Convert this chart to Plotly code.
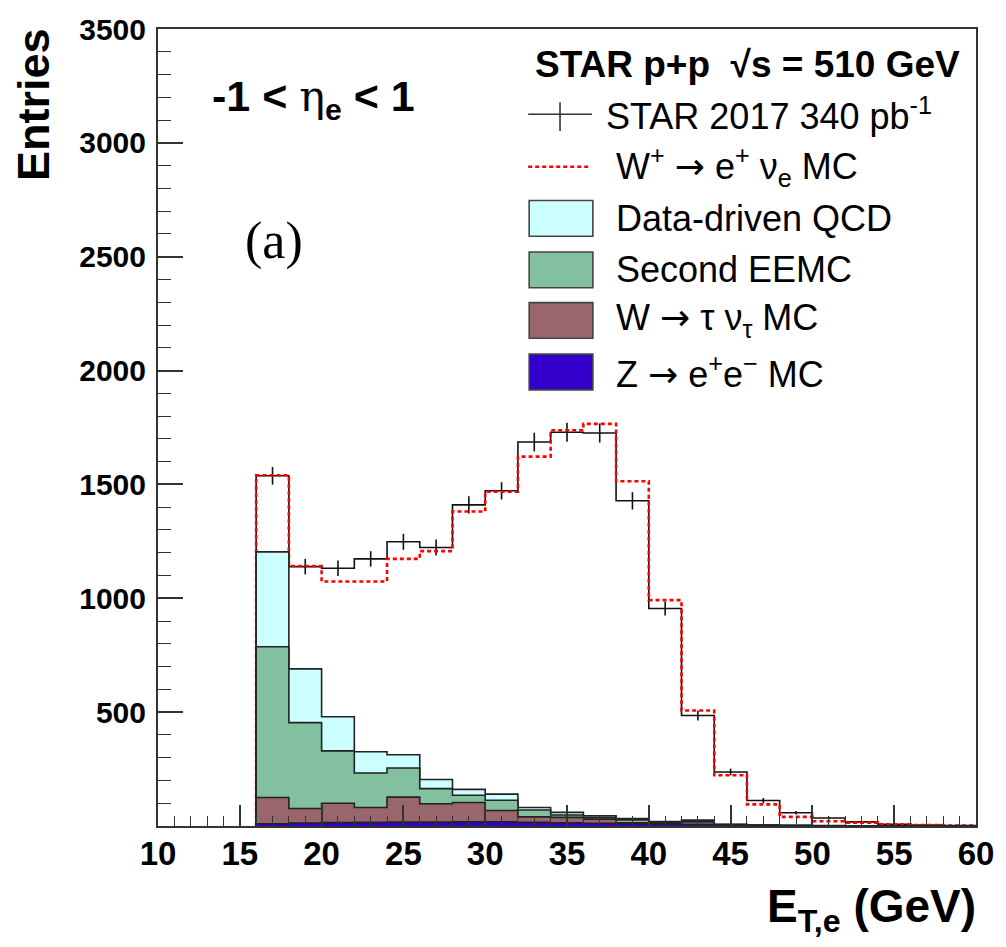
import numpy as np
import plotly.graph_objects as go

# ---------------- data ----------------
bin_edges = list(range(16, 62, 2))  # 16..60, width 2 GeV
data_counts = [1538, 1139, 1132, 1173, 1248, 1223, 1410, 1472, 1686, 1729, 1726,
               1428, 955, 485, 237, 112, 58, 35, 18, 8, 4, 2]
data_errors = [39, 34, 34, 34, 35, 35, 38, 38, 41, 42, 42, 38, 31, 22, 15, 11, 8,
               6, 4, 3, 2, 1]
wplus_mc = [1540, 1142, 1074, 1074, 1173, 1207, 1381, 1468, 1622, 1738, 1766,
            1514, 992, 507, 223, 95, 40, 21, 15, 7, 4, 2]
z_ee = [10, 13, 15, 16, 17, 17, 18, 18, 16, 14, 12, 10, 8, 6, 4, 2, 1, 1, 0, 0, 0, 0]
w_tau = [115, 64, 85, 65, 110, 81, 85, 50, 24, 24, 18, 4, 2, 2, 1, 1, 1, 0, 0, 0, 0, 0]
second_eemc = [662, 377, 230, 152, 128, 66, 32, 45, 30, 10, 8, 13, 4, 10, 1, 0, 0, 0,
               0, 0, 0, 0]
qcd = [417, 236, 150, 93, 58, 40, 26, 27, 11, 12, 7, 6, 5, 8, 2, 1, 1, 1, 1, 0, 0, 0]

x_ticks = [10, 15, 20, 25, 30, 35, 40, 45, 50, 55, 60]
y_ticks = [500, 1000, 1500, 2000, 2500, 3000, 3500]

# ---------------- styles ----------------
C_QCD = "#ccffff"
C_EEMC = "#82c0a0"
C_WTAU = "#99666b"
C_Z = "#3300cc"
C_RED = "#ff0000"
FONT = "Liberation Sans, Arial, sans-serif"
ARROW = "<span style='font-family:DejaVu Sans'>→</span>"

edges = np.array(bin_edges, dtype=float)
centers = 0.5 * (edges[:-1] + edges[1:])


def step_xy(vals):
    v = list(vals)
    xs = [edges[0]] + list(edges) + [edges[-1]]
    ys = [0] + v + [v[-1]] + [0]
    return xs, ys


fig = go.Figure()

# data histogram line
xs, ys = step_xy(data_counts)
fig.add_trace(go.Scatter(x=xs, y=ys, mode="lines", line=dict(color="#111", width=1.6, shape="hv"),
                         showlegend=False, hoverinfo="skip"))
# data error bars
fig.add_trace(go.Scatter(x=centers, y=data_counts, mode="markers",
                         marker=dict(size=1, color="#111"),
                         error_y=dict(type="data", array=data_errors, visible=True,
                                      color="#111", thickness=1.6, width=0),
                         showlegend=False))
# W+ MC red dashed
xs, ys = step_xy(wplus_mc)
fig.add_trace(go.Scatter(x=xs, y=ys, mode="lines",
                         line=dict(color=C_RED, width=2.6, shape="hv", dash="4px,3px"),
                         showlegend=False, hoverinfo="skip"))

# stacked backgrounds (cumulative, drawn from the top down)
comp = [np.array(z_ee), np.array(w_tau), np.array(second_eemc), np.array(qcd)]
cols = [C_Z, C_WTAU, C_EEMC, C_QCD]
cum = np.cumsum(np.vstack(comp), axis=0)
for level in range(3, -1, -1):
    xs, ys = step_xy(cum[level].tolist())
    fig.add_trace(go.Scatter(x=xs, y=ys, mode="lines", fill="tozeroy",
                             fillcolor=cols[level],
                             line=dict(color="#222", width=1.6, shape="hv"),
                             showlegend=False, hoverinfo="skip"))

# ---------------- layout ----------------
L, R, T, B = 158, 980, 22, 826
W, H = 1006, 947


def px(x):
    return (x - L) / (R - L)


def py(y):
    return (B - y) / (B - T)


fig.update_layout(
    width=W, height=H,
    margin=dict(l=L, r=W - R, t=T, b=H - B, pad=0),
    paper_bgcolor="white", plot_bgcolor="white",
    showlegend=False,
    font=dict(family=FONT, color="black"),
)
fig.update_xaxes(
    range=[10, 60], tickvals=x_ticks, ticktext=[str(v) for v in x_ticks],
    ticks="inside", ticklen=21, tickwidth=1.6, tickcolor="#333",
    minor=dict(dtick=1, tick0=10, ticks="inside", ticklen=10, tickwidth=1.4, tickcolor="#333"),
    showline=True, linecolor="#333", linewidth=2, mirror=True,
    showgrid=False, zeroline=False,
    tickfont=dict(family=FONT, size=33, color="black", weight="bold"),
    ticklabelstandoff=-3,
)
fig.update_yaxes(
    range=[0, 3500], tickvals=y_ticks, ticktext=[str(v) for v in y_ticks],
    ticks="inside", ticklen=25, tickwidth=1.6, tickcolor="#333",
    minor=dict(dtick=100, tick0=0, ticks="inside", ticklen=13, tickwidth=1.4, tickcolor="#333"),
    showline=True, linecolor="#333", linewidth=2, mirror=True,
    showgrid=False, zeroline=False,
    tickfont=dict(family=FONT, size=30, color="black", weight="bold"),
    ticklabelstandoff=4,
)

ann = []
# axis titles
ann.append(dict(text="<b>Entries</b>", x=px(33), y=py(98), xref="paper", yref="paper",
                textangle=-90, showarrow=False, xanchor="center", yanchor="middle",
                font=dict(family=FONT, size=45, color="black")))
ann.append(dict(text="<b>E<sub>T,e</sub> (GeV)</b>", x=px(982), y=py(910), xref="paper", yref="paper",
                showarrow=False, xanchor="right", yanchor="middle",
                font=dict(family=FONT, size=46, color="black")))
# region label
ann.append(dict(text="<b>-1 &lt; <span style='font-weight:normal;font-family:DejaVu Serif'>η</span><sub>e</sub> &lt; 1</b>",
                x=px(210), y=py(92), xref="paper", yref="paper",
                showarrow=False, xanchor="left", yanchor="middle",
                font=dict(family=FONT, size=43, color="black")))
ann.append(dict(text="(a)", x=px(243), y=py(236), xref="paper", yref="paper",
                showarrow=False, xanchor="left", yanchor="middle",
                font=dict(family="Liberation Serif, Times New Roman, serif", size=52, color="black")))

# legend
ann.append(dict(text="<b>STAR p+p  √s = 510 GeV</b>", x=px(535), y=py(58), xref="paper", yref="paper",
                showarrow=False, xanchor="left", yanchor="middle",
                font=dict(family=FONT, size=37, color="black")))
leg_rows = [
    ("STAR 2017 340 pb<sup>-1</sup>", 108, 606),
    ("W<sup>+</sup> " + ARROW + " e<sup>+</sup> ν<sub>e</sub> MC", 161, 616),
    ("Data-driven QCD", 213, 616),
    ("Second EEMC", 265, 616),
    ("W " + ARROW + " τ ν<sub>τ</sub> MC", 316, 616),
    ("Z " + ARROW + " e<sup>+</sup>e<sup>−</sup> MC", 368, 616),
]
for txt, yc, xl in leg_rows:
    ann.append(dict(text=txt, x=px(xl), y=py(yc), xref="paper", yref="paper",
                    showarrow=False, xanchor="left", yanchor="middle",
                    font=dict(family=FONT, size=36, color="black")))
fig.update_layout(annotations=ann)

shapes = []
# data cross
shapes.append(dict(type="line", xref="paper", yref="paper", x0=px(530), x1=px(594), y0=py(108), y1=py(108),
                   line=dict(color="#333", width=1.6)))
shapes.append(dict(type="line", xref="paper", yref="paper", x0=px(562), x1=px(562), y0=py(96), y1=py(125),
                   line=dict(color="#333", width=1.6)))
# red dashed
shapes.append(dict(type="line", xref="paper", yref="paper", x0=px(530), x1=px(592), y0=py(161), y1=py(161),
                   line=dict(color=C_RED, width=2.4, dash="4px,3px")))
for yc, col in [(213, C_QCD), (265, C_EEMC), (316, C_WTAU), (368, C_Z)]:
    shapes.append(dict(type="rect", xref="paper", yref="paper", x0=px(531), x1=px(595),
                       y0=py(yc + 18), y1=py(yc - 18), fillcolor=col,
                       line=dict(color="#444", width=1.6)))
fig.update_layout(shapes=shapes)

fig.write_html("out.html")
